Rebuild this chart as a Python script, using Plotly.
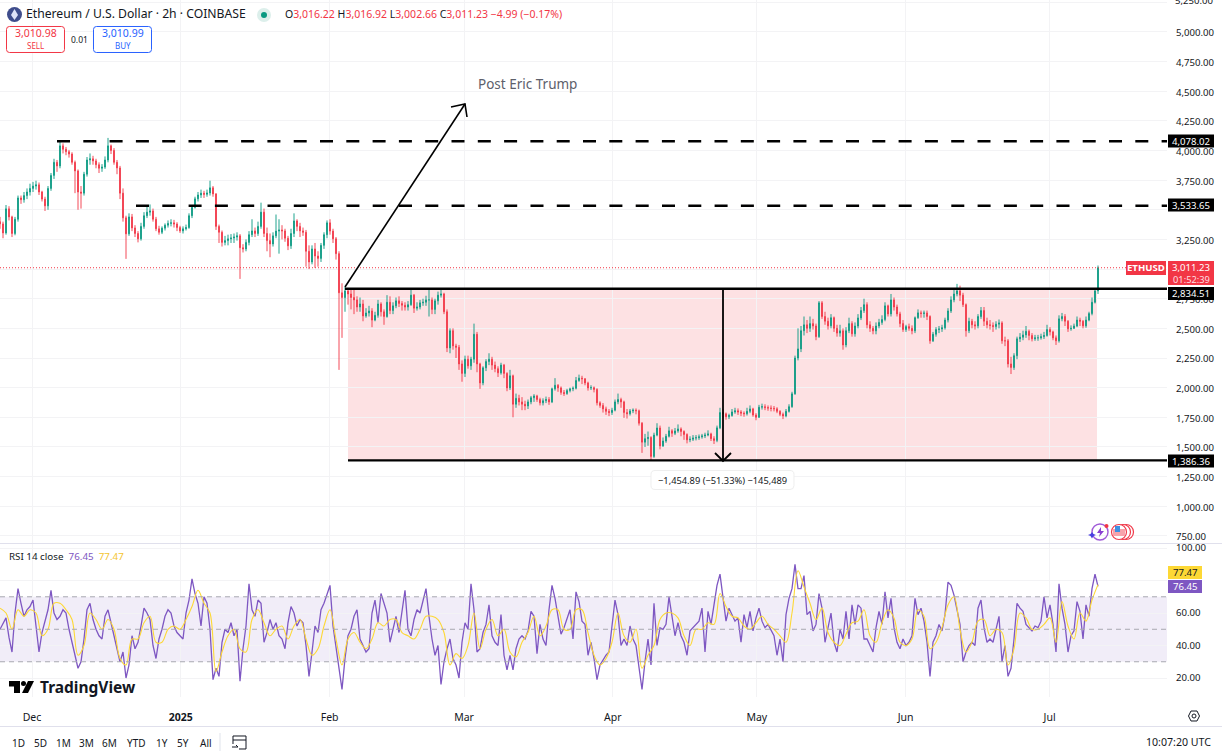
import pandas as pd
import plotly.graph_objects as go
from plotly.subplots import make_subplots

W, H = 1222, 756

close_vals = [
    3381,3305,3508,3440,3300,3420,3600,3585,3620,3650,
    3680,3700,3710,3650,3590,3533,3680,3790,3900,3870,
    4039,4010,3990,3970,3900,3828,3650,3640,3800,3920,
    3930,3912,3880,3850,3860,3920,4039,4000,3900,3853,
    3640,3432,3297,3440,3347,3300,3255,3360,3450,3480,
    3490,3420,3340,3310,3345,3370,3385,3390,3380,3350,
    3322,3340,3350,3450,3520,3592,3625,3640,3630,3642,
    3685,3634,3360,3310,3225,3240,3255,3262,3270,3280,
    3180,3170,3225,3290,3322,3300,3360,3480,3300,3240,
    3212,3280,3320,3330,3322,3260,3196,3300,3406,3360,
    3322,3310,3150,3060,3170,3110,3090,3200,3290,3390,
    3320,3255,3130,2800,2760,2816,2790,2760,2740,2680,
    2706,2605,2630,2647,2570,2610,2706,2640,2600,2720,
    2650,2690,2732,2710,2695,2680,2700,2780,2670,2680,
    2715,2720,2740,2740,2660,2732,2780,2790,2640,2335,
    2480,2352,2340,2200,2120,2240,2184,2240,2450,2200,
    2040,2167,2220,2240,2190,2160,2125,2190,2120,1998,
    2100,1860,1910,1880,1860,1846,1880,1915,1930,1900,
    1872,1890,1900,1880,1990,2020,1998,1960,1950,1975,
    1990,1995,2060,2080,2075,2040,1998,2000,1985,1872,
    1850,1821,1800,1790,1810,1880,1900,1880,1790,1780,
    1804,1810,1805,1700,1540,1570,1580,1420,1600,1660,
    1509,1550,1590,1636,1615,1635,1652,1630,1605,1560,
    1565,1575,1578,1585,1593,1600,1610,1570,1555,1661,
    1790,1779,1755,1765,1795,1805,1795,1785,1780,1800,
    1821,1770,1750,1835,1840,1832,1828,1825,1822,1800,
    1775,1762,1800,1840,1948,2250,2327,2480,2530,2500,
    2540,2520,2430,2715,2600,2560,2521,2590,2500,2460,
    2479,2360,2480,2540,2454,2520,2588,2650,2700,2530,
    2500,2479,2520,2550,2575,2690,2622,2740,2680,2622,
    2540,2490,2515,2500,2479,2590,2631,2625,2630,2600,
    2395,2450,2490,2495,2505,2570,2647,2740,2790,2816,
    2780,2700,2480,2560,2530,2521,2600,2650,2560,2530,
    2525,2515,2535,2546,2395,2395,2200,2170,2270,2412,
    2425,2445,2475,2440,2412,2420,2420,2430,2440,2490,
    2470,2420,2395,2580,2600,2560,2496,2500,2520,2570,
    2560,2521,2570,2625,2720,2816,3011.23,
]
open_vals = [
    3400,3381,3305,3508,3440,3300,3420,3600,3585,3620,
    3650,3680,3700,3710,3650,3590,3533,3680,3790,3900,
    3870,4039,4010,3990,3970,3900,3828,3650,3640,3800,
    3920,3930,3912,3880,3850,3860,3920,4039,4000,3900,
    3853,3640,3432,3297,3440,3347,3300,3255,3360,3450,
    3480,3490,3420,3340,3310,3345,3370,3385,3390,3380,
    3350,3322,3340,3350,3450,3520,3592,3625,3640,3630,
    3642,3685,3634,3360,3310,3225,3240,3255,3262,3270,
    3280,3180,3170,3225,3290,3322,3300,3360,3480,3300,
    3240,3212,3280,3320,3330,3322,3260,3196,3300,3406,
    3360,3322,3310,3150,3060,3170,3110,3090,3200,3290,
    3390,3320,3255,3130,2800,2760,2816,2790,2760,2740,
    2680,2706,2605,2630,2647,2570,2610,2706,2640,2600,
    2720,2650,2690,2732,2710,2695,2680,2700,2780,2670,
    2680,2715,2720,2740,2740,2660,2732,2780,2790,2640,
    2335,2480,2352,2340,2200,2120,2240,2184,2240,2450,
    2200,2040,2167,2220,2240,2190,2160,2125,2190,2120,
    1998,2100,1860,1910,1880,1860,1846,1880,1915,1930,
    1900,1872,1890,1900,1880,1990,2020,1998,1960,1950,
    1975,1990,1995,2060,2080,2075,2040,1998,2000,1985,
    1872,1850,1821,1800,1790,1810,1880,1900,1880,1790,
    1780,1804,1810,1805,1700,1540,1570,1580,1420,1600,
    1660,1509,1550,1590,1636,1615,1635,1652,1630,1605,
    1560,1565,1575,1578,1585,1593,1600,1610,1570,1555,
    1661,1790,1779,1755,1765,1795,1805,1795,1785,1780,
    1800,1821,1770,1750,1835,1840,1832,1828,1825,1822,
    1800,1775,1762,1800,1840,1948,2250,2327,2480,2530,
    2500,2540,2520,2430,2715,2600,2560,2521,2590,2500,
    2460,2479,2360,2480,2540,2454,2520,2588,2650,2700,
    2530,2500,2479,2520,2550,2575,2690,2622,2740,2680,
    2622,2540,2490,2515,2500,2479,2590,2631,2625,2630,
    2600,2395,2450,2490,2495,2505,2570,2647,2740,2790,
    2816,2780,2700,2480,2560,2530,2521,2600,2650,2560,
    2530,2525,2515,2535,2546,2395,2395,2200,2170,2270,
    2412,2425,2445,2475,2440,2412,2420,2420,2430,2440,
    2490,2470,2420,2395,2580,2600,2560,2496,2500,2520,
    2570,2560,2521,2570,2625,2720,2816,
]
high_vals = [
    3440,3400,3540,3530,3450,3440,3620,3620,3650,3680,
    3720,3735,3745,3730,3660,3610,3700,3810,3930,3920,
    4081,4060,4030,4005,3985,3915,3840,3700,3820,3945,
    3975,3955,3930,3900,3885,3950,4106,4050,4020,3920,
    3870,3680,3450,3470,3465,3370,3320,3390,3480,3530,
    3545,3510,3440,3365,3360,3385,3410,3420,3415,3395,
    3365,3360,3375,3470,3540,3610,3650,3670,3660,3670,
    3745,3700,3640,3375,3325,3280,3290,3295,3300,3310,
    3295,3210,3250,3320,3420,3350,3400,3560,3510,3350,
    3300,3310,3460,3420,3370,3340,3280,3340,3470,3420,
    3390,3350,3330,3200,3200,3220,3150,3220,3310,3410,
    3420,3340,3270,3150,2880,2850,2830,2830,2825,2770,
    2760,2740,2670,2690,2670,2640,2740,2720,2660,2780,
    2770,2720,2760,2770,2730,2720,2730,2830,2790,2720,
    2740,2750,2775,2830,2760,2750,2810,2835,2800,2660,
    2500,2500,2370,2360,2230,2270,2270,2260,2540,2470,
    2210,2180,2240,2290,2260,2220,2180,2210,2200,2130,
    2150,2110,1950,1940,1920,1890,1900,1930,1945,1940,
    1915,1910,1925,1920,2000,2080,2030,2010,1980,1990,
    2000,2010,2090,2110,2100,2080,2050,2020,2010,1995,
    1885,1870,1840,1820,1830,1900,1950,1915,1890,1820,
    1820,1825,1825,1815,1710,1610,1630,1590,1620,1700,
    1680,1580,1610,1670,1650,1660,1690,1665,1640,1615,
    1590,1600,1600,1605,1610,1620,1640,1620,1590,1680,
    1830,1820,1790,1780,1820,1830,1825,1810,1800,1830,
    1850,1830,1785,1855,1865,1860,1850,1850,1845,1835,
    1810,1790,1820,1860,1965,2270,2500,2520,2600,2570,
    2600,2580,2540,2730,2730,2640,2590,2620,2600,2530,
    2530,2500,2510,2590,2560,2550,2620,2680,2750,2720,
    2560,2520,2550,2580,2610,2720,2700,2790,2760,2700,
    2640,2570,2530,2540,2525,2600,2660,2650,2650,2650,
    2610,2470,2510,2520,2530,2590,2670,2770,2830,2875,
    2860,2800,2710,2590,2580,2560,2620,2680,2680,2590,
    2570,2550,2560,2575,2560,2430,2410,2260,2290,2430,
    2460,2480,2520,2490,2460,2445,2445,2455,2470,2530,
    2510,2480,2440,2610,2630,2620,2570,2525,2540,2600,
    2590,2570,2600,2640,2760,2840,3030,
]
low_vals = [
    3340,3260,3290,3410,3270,3285,3400,3550,3560,3590,
    3620,3650,3670,3625,3570,3490,3500,3660,3760,3820,
    3850,3975,3960,3940,3880,3640,3500,3510,3620,3780,
    3880,3880,3850,3810,3820,3845,3900,3970,3880,3800,
    3590,3400,3086,3280,3320,3270,3225,3240,3340,3430,
    3450,3400,3320,3290,3295,3325,3350,3360,3350,3320,
    3305,3300,3325,3340,3430,3510,3570,3600,3600,3610,
    3620,3610,3330,3220,3190,3200,3200,3220,3220,3240,
    2917,3140,3150,3200,3270,3270,3280,3340,3270,3150,
    3100,3190,3260,3130,3250,3230,3160,3170,3270,3320,
    3270,3280,3020,3000,3040,3010,3020,3060,3170,3260,
    3290,3220,3080,2150,2420,2640,2700,2660,2620,2640,
    2640,2560,2590,2600,2510,2560,2590,2600,2530,2590,
    2620,2620,2670,2680,2650,2650,2650,2690,2630,2650,
    2660,2690,2690,2600,2620,2620,2700,2760,2620,2300,
    2290,2320,2250,2150,2050,2090,2160,2150,2210,2130,
    1990,2020,2140,2190,2150,2130,2090,2110,2080,1970,
    1980,1750,1830,1850,1810,1810,1820,1860,1880,1880,
    1850,1850,1870,1855,1870,1975,1965,1940,1930,1940,
    1960,1970,1985,2050,2030,2020,1975,1980,1960,1850,
    1830,1790,1770,1760,1770,1800,1860,1830,1745,1740,
    1765,1785,1775,1680,1450,1500,1510,1391,1408,1590,
    1480,1500,1535,1580,1585,1600,1620,1590,1560,1530,
    1540,1550,1555,1560,1570,1575,1590,1550,1525,1540,
    1650,1750,1730,1735,1755,1780,1770,1760,1755,1765,
    1785,1755,1725,1745,1815,1810,1805,1800,1800,1785,
    1760,1735,1750,1790,1830,1940,2230,2300,2440,2460,
    2470,2490,2400,2420,2580,2530,2490,2500,2470,2430,
    2430,2320,2340,2460,2430,2430,2500,2570,2630,2500,
    2470,2450,2450,2500,2530,2560,2600,2600,2650,2600,
    2510,2470,2470,2480,2450,2460,2580,2590,2590,2570,
    2370,2385,2430,2460,2470,2490,2550,2630,2720,2770,
    2730,2680,2430,2460,2500,2490,2500,2580,2520,2500,
    2490,2470,2490,2500,2370,2350,2170,2115,2150,2240,
    2385,2400,2420,2400,2390,2395,2395,2405,2410,2430,
    2440,2400,2360,2380,2560,2520,2470,2480,2495,2510,
    2520,2500,2505,2560,2610,2710,2790,
]
rsi_vals = [
    50,54,57,45,36,60,75,66,58,62,
    64,68,52,36,48,55,62,74,60,56,
    58,62,60,50,42,33,26,30,44,62,
    66,56,50,46,44,58,62,54,46,36,
    30,36,20,28,46,38,42,52,63,60,
    56,40,32,44,50,58,62,60,52,48,
    46,44,60,68,81,72,66,52,70,66,
    50,19,26,21,42,50,48,54,46,50,
    18,38,52,78,62,58,68,66,42,48,
    56,50,54,46,44,38,54,64,60,52,
    56,54,40,21,36,52,48,62,66,72,
    77,52,40,28,13,32,46,50,58,62,
    44,40,36,38,60,68,54,72,66,60,
    42,50,58,48,62,74,50,46,56,62,
    60,68,75,58,44,34,40,16,30,38,
    44,32,28,20,42,54,50,78,62,36,
    38,48,53,65,46,42,40,59,34,25,
    34,25,38,44,46,44,49,61,58,35,
    53,44,40,62,77,69,57,47,51,56,
    62,44,73,67,55,53,34,42,32,19,
    28,31,34,36,51,68,59,40,44,40,
    52,44,40,26,13,30,44,28,66,40,
    51,50,53,70,59,46,54,46,42,34,
    49,51,53,55,63,36,61,53,65,77,
    84,71,55,63,59,55,57,42,59,51,
    61,49,57,63,55,51,53,49,46,34,
    44,30,59,69,75,90,75,75,83,59,
    61,49,53,72,63,42,52,60,42,36,
    50,44,61,44,65,53,65,63,44,44,
    40,36,51,61,53,73,57,69,51,42,
    38,44,40,42,46,69,59,63,55,42,
    21,42,46,53,49,59,79,77,71,63,
    53,30,36,40,42,40,63,68,51,42,
    44,42,51,58,30,40,21,26,44,66,
    63,61,53,51,49,52,51,55,70,57,
    65,53,36,78,63,53,36,46,49,67,
    61,44,65,58,75,84,76.45,
]
rsi_ma_vals = [
    63,60,50,62,58,62,60,46,50,66,
    66,62,56,34,40,60,56,50,56,50,
    32,28,44,44,54,58,42,42,50,52,
    50,56,64,74,66,60,24,36,46,50,
    38,36,56,62,54,46,50,52,44,52,
    56,44,34,38,52,62,44,28,44,48,
    42,38,44,54,52,56,56,48,46,44,
    50,58,58,56,48,28,35,32,40,60,
    38,50,56,46,
    50,36,33,42,48,58,46,52,62,62,
    50,50,62,62,48,34,28,32,42,60,
    46,42,50,26,34,40,56,60,60,57,
    46,40,50,50,54,53,72,64,58,57,
    52,50,54,58,53,50,46,42,60,
    86,76,66,56,63,48,42,40,47,54,
    55,62,46,42,54,62,57,42,40,44,
    62,58,38,42,51,65,70,50,36,42,
    55,56,46,50,48,28,38,60,57,50,
    50,53,57,42,67,52,44,60,55,68,
    77.47,
]

# drawn levels: price, start of the line
level_prices = [4078.02, 3533.65, 2834.51, 1386.36]
level_starts = ["2024-12-06 05:00", "2024-12-22 16:00", "2025-02-04 05:00", "2025-02-04 20:00"]
last_price = 3011.23
month_ticks = ["2024-12-01", "2025-01-01", "2025-02-01", "2025-03-01",
               "2025-04-01", "2025-05-01", "2025-06-01", "2025-07-01"]
month_labels = ["Dec", "<b>2025</b>", "Feb", "Mar", "Apr", "May", "Jun", "Jul"]
price_ticks = [750, 1000, 1250, 1500, 1750, 2000, 2250, 2500, 2750, 3000, 3250,
               3500, 3750, 4000, 4250, 4500, 4750, 5000, 5250]
# 3,000 and 3,500 sit fully behind the price tags, 5,250 is cut by the top edge
price_labels = ["750.00", "1,000.00", "1,250.00", "1,500.00", "1,750.00", "2,000.00", "2,250.00",
                "2,500.00", "2,750.00", "", "3,250.00", "", "3,750.00", "4,000.00", "4,250.00",
                "4,500.00", "4,750.00", "5,000.00", ""]
rsi_ticks = [20, 40, 60, 80, 100]
rsi_labels = ["20.00", "40.00", "60.00", "", "100.00"]
range_buttons = ["1D", "5D", "1M", "3M", "6M", "YTD", "1Y", "5Y", "All"]
button_xs = [18, 40, 63, 86, 109, 136, 162, 183, 206]

FONT = "Noto Sans"
UP, DOWN = "#089981", "#F23645"
PURPLE, YELLOW = "#7E57C2", "#FDD835"
INK = "#131722"
SCALE_SIZE = 9.6

times = pd.date_range("2024-11-24 08:00", periods=len(close_vals), freq="15h")
ma_times = pd.date_range("2024-11-24 08:00", periods=len(rsi_ma_vals), freq="30h")
x_end = "2025-07-25 11:00"
box_end = "2025-07-10 21:00"
drop_x = "2025-04-23 23:00"


def fx(x):
    return x / W


def fy(y):
    return 1 - y / H


def path(points, close=False):
    s = "M" + " L".join(f"{fx(x):.5f},{fy(y):.5f}" for x, y in points)
    return s + (" Z" if close else "")


def rrect(x0, y0, x1, y1, r=3):
    c = lambda x, y: f"{fx(x):.5f},{fy(y):.5f}"
    return (f"M{c(x0 + r, y0)} L{c(x1 - r, y0)} Q{c(x1, y0)} {c(x1, y0 + r)} "
            f"L{c(x1, y1 - r)} Q{c(x1, y1)} {c(x1 - r, y1)} L{c(x0 + r, y1)} "
            f"Q{c(x0, y1)} {c(x0, y1 - r)} L{c(x0, y0 + r)} Q{c(x0, y0)} {c(x0 + r, y0)} Z")


fig = make_subplots(rows=2, cols=1, shared_xaxes=True, vertical_spacing=0)

fig.add_trace(go.Candlestick(x=times, open=open_vals, high=high_vals, low=low_vals, close=close_vals,
                             increasing=dict(line=dict(color=UP, width=0.9), fillcolor=UP),
                             decreasing=dict(line=dict(color=DOWN, width=0.9), fillcolor=DOWN),
                             whiskerwidth=0, hoverinfo="skip", showlegend=False), row=1, col=1)
fig.add_trace(go.Scatter(x=times, y=rsi_vals, mode="lines", line=dict(color=PURPLE, width=1.3),
                         hoverinfo="skip", showlegend=False), row=2, col=1)
fig.add_trace(go.Scatter(x=ma_times, y=rsi_ma_vals, mode="lines",
                         line=dict(color=YELLOW, width=1.1, shape="spline"),
                         hoverinfo="skip", showlegend=False), row=2, col=1)

shapes = []
# shaded drop box and RSI band sit under the candles
shapes.append(dict(type="rect", xref="x", yref="y", x0=level_starts[3], x1=box_end,
                   y0=level_prices[3], y1=level_prices[2], layer="below",
                   fillcolor="rgba(242,54,69,0.15)", line_width=0))
shapes.append(dict(type="rect", xref="x", yref="y2", x0=times[0], x1=x_end, y0=30, y1=70,
                   layer="below", fillcolor="rgba(126,87,194,0.11)", line_width=0))
for v in [30, 50, 70]:
    shapes.append(dict(type="line", xref="x", yref="y2", x0=times[0], x1=x_end, y0=v, y1=v,
                       line=dict(color="#a8a8b0", width=1, dash="5px,4px")))
shapes.append(dict(type="line", xref="x", yref="y", x0=times[0], x1=x_end, y0=last_price, y1=last_price,
                   line=dict(color=DOWN, width=1, dash="1px,2px")))
for p, s, dash in zip(level_prices, level_starts, ["13px,13.3px", "13px,13.3px", None, None]):
    shapes.append(dict(type="line", xref="x", yref="y", x0=s, x1=x_end, y0=p, y1=p,
                       line=dict(color="black", width=2.4, dash=dash or "solid")))
shapes.append(dict(type="line", xref="x", yref="y", x0=drop_x, x1=drop_x,
                   y0=level_prices[2], y1=level_prices[3], line=dict(color="black", width=1.8)))

black = dict(color="black", width=1.6)
shapes.append(dict(type="path", xref="paper", yref="paper", path=path([(345, 287), (465, 104)]), line=black))
shapes.append(dict(type="path", xref="paper", yref="paper", path=path([(451, 107), (465, 104), (467, 117)]), line=black))
shapes.append(dict(type="path", xref="paper", yref="paper", path=path([(715, 453), (723, 461), (731, 453)]), line=dict(color="black", width=1.8)))

# pane and toolbar separators
for y0, x1 in [(543.5, W), (726.5, W)]:
    shapes.append(dict(type="line", xref="paper", yref="paper", x0=0, x1=fx(x1), y0=fy(y0), y1=fy(y0),
                       line=dict(color="#e0e0ec", width=1)))
shapes.append(dict(type="line", xref="paper", yref="paper", x0=fx(220), x1=fx(220), y0=fy(733), y1=fy(751),
                   line=dict(color="#e0e3eb", width=1)))

annotations = []


def label(x, y, text, size=10.5, color=INK, anchor="left"):
    annotations.append(dict(xref="paper", yref="paper", x=fx(x), y=fy(y), text=text, showarrow=False,
                            xanchor=anchor, yanchor="middle", align=anchor, borderpad=0,
                            font=dict(family=FONT, size=size, color=color)))


def tag(x0, y0, x1, y1, fill, text, color="white"):
    shapes.append(dict(type="rect", xref="paper", yref="paper", x0=fx(x0), x1=fx(x1), y0=fy(y0), y1=fy(y1),
                       fillcolor=fill, line_width=0))
    if text:
        label((x0 + x1) / 2, (y0 + y1) / 2, text, size=SCALE_SIZE, color=color, anchor="center")


# right scale tags
label(1174, 1, "5,250.00", size=SCALE_SIZE)
for p, y in zip(level_prices, [141, 205, 293.5, 461]):
    tag(1168, y - 6.5, 1214, y + 6.5, "#000000", f"{p:,.2f}")
tag(1168, 261, 1214, 285, DOWN, "")
label(1191, 267, "3,011.23", size=SCALE_SIZE, color="white", anchor="center")
label(1191, 279, "01:52:39", size=9.3, color="#ffdfe2", anchor="center")
tag(1126, 261, 1166, 275, DOWN, "<b>ETHUSD</b>")
tag(1168, 566, 1202, 579, YELLOW, "77.47", color=INK)
tag(1168, 580, 1202, 593, PURPLE, "76.45")

# header
shapes.append(dict(type="circle", xref="paper", yref="paper", x0=fx(7), x1=fx(22), y0=fy(7), y1=fy(22),
                   fillcolor="#3f4d8c", line_width=0))
shapes.append(dict(type="path", xref="paper", yref="paper", fillcolor="#dfe3f7", line_width=0,
                   path=path([(14.5, 9), (18, 15), (14.5, 20), (11, 15)], close=True)))
label(25, 14, "Ethereum / U.S. Dollar · 2h · COINBASE", size=12.2)
shapes.append(dict(type="circle", xref="paper", yref="paper", x0=fx(257), x1=fx(271), y0=fy(8), y1=fy(22),
                   fillcolor="#dcefeb", line_width=0))
shapes.append(dict(type="circle", xref="paper", yref="paper", x0=fx(261), x1=fx(267), y0=fy(12), y1=fy(18),
                   fillcolor=UP, line_width=0))
red = DOWN
label(284, 14, f"O<span style='color:{red}'>3,016.22</span> H<span style='color:{red}'>3,016.92</span> "
               f"L<span style='color:{red}'>3,002.66</span> C<span style='color:{red}'>3,011.23 −4.99 (−0.17%)</span>",
      size=10.5)
shapes.append(dict(type="path", xref="paper", yref="paper", path=rrect(6.5, 26.5, 64.5, 52.5),
                   fillcolor="white", line=dict(color=DOWN, width=1)))
shapes.append(dict(type="path", xref="paper", yref="paper", path=rrect(93.5, 26.5, 151.5, 52.5),
                   fillcolor="white", line=dict(color="#2962FF", width=1)))
label(35.5, 33, "3,010.98", size=10.5, color=DOWN, anchor="center")
label(35.5, 45, "SELL", size=8, color=DOWN, anchor="center")
label(122.5, 33, "3,010.99", size=10.5, color="#2962FF", anchor="center")
label(122.5, 45, "BUY", size=8, color="#2962FF", anchor="center")
label(79, 39, "0.01", size=8.5, anchor="center")

# drawing labels
label(477, 83.5, "Post Eric Trump", size=13.5, color="#5d606b")
shapes.append(dict(type="path", xref="paper", yref="paper", path=rrect(651, 470.5, 794, 489.5, r=4),
                   fillcolor="white", line=dict(color="#eeeeee", width=1)))
label(722.5, 480, "−1,454.89 (−51.33%) −145,489", size=9.3, anchor="center")

# RSI legend
label(8, 556, f"RSI 14 close  <span style='color:{PURPLE}'>76.45</span>  <span style='color:#f4c430'>77.47</span>", size=9.8)

# TradingView mark
shapes.append(dict(type="path", xref="paper", yref="paper", fillcolor="black", line_width=0,
                   path=path([(9, 681), (20, 681), (20, 693), (14, 693), (14, 686.5), (9, 686.5)], close=True)))
shapes.append(dict(type="circle", xref="paper", yref="paper", x0=fx(21), x1=fx(26), y0=fy(681), y1=fy(686),
                   fillcolor="black", line_width=0))
shapes.append(dict(type="path", xref="paper", yref="paper", fillcolor="black", line_width=0,
                   path=path([(28, 681), (34, 681), (28, 693), (22, 693)], close=True)))
label(39, 687, "<b>TradingView</b>", size=15.5, color="#131722")

# bottom toolbar
for name, bx in zip(range_buttons, button_xs):
    label(bx, 743, name, size=10, anchor="center")
label(1212, 742, "10:07:20 UTC", size=10.6, anchor="right")
shapes.append(dict(type="path", xref="paper", yref="paper", line=dict(color="#131722", width=1),
                   path=path([(233, 744), (233, 736), (246, 736), (246, 749), (239, 749)])))
shapes.append(dict(type="path", xref="paper", yref="paper", line=dict(color="#131722", width=1),
                   path=path([(233, 740), (246, 740)])))
shapes.append(dict(type="path", xref="paper", yref="paper", line=dict(color="#131722", width=1),
                   path=path([(232, 747), (238, 747), (236, 745)])))

# scale settings gear
shapes.append(dict(type="path", xref="paper", yref="paper", line=dict(color="#131722", width=1),
                   path=path([(1188.5, 716), (1191, 711), (1197, 711), (1199.5, 716), (1197, 721), (1191, 721)], close=True)))
shapes.append(dict(type="circle", xref="paper", yref="paper", x0=fx(1192), x1=fx(1196), y0=fy(714), y1=fy(718),
                   line=dict(color="#131722", width=1)))

# promo badges above the RSI pane
shapes.append(dict(type="circle", xref="paper", yref="paper", x0=fx(1092), x1=fx(1108), y0=fy(524), y1=fy(540),
                   line=dict(color="#a05ad8", width=1.4)))
shapes.append(dict(type="path", xref="paper", yref="paper", fillcolor="#8a3fd1", line_width=0,
                   path=path([(1101, 527), (1097, 533), (1100, 533), (1099, 537), (1104, 531), (1101, 531)], close=True)))
shapes.append(dict(type="circle", xref="paper", yref="paper", x0=fx(1104.5), x1=fx(1108.5), y0=fy(524), y1=fy(528),
                   fillcolor="#f23645", line_width=0))
shapes.append(dict(type="path", xref="paper", yref="paper", fillcolor="#4a3fe0", line_width=0,
                   path=path([(1092, 532), (1093.5, 534), (1096, 535), (1093.5, 536), (1092, 538.5), (1090.5, 536), (1088, 535), (1090.5, 534)], close=True)))
for cx in [1126, 1123, 1119]:
    shapes.append(dict(type="circle", xref="paper", yref="paper", x0=fx(cx - 7.5), x1=fx(cx + 7.5), y0=fy(524.5), y1=fy(539.5),
                       fillcolor="white", line=dict(color="#f0394a", width=1.2)))
shapes.append(dict(type="rect", xref="paper", yref="paper", x0=fx(1113), x1=fx(1125), y0=fy(529), y1=fy(536),
                   fillcolor="#f7a3ab", line_width=0))
shapes.append(dict(type="rect", xref="paper", yref="paper", x0=fx(1115), x1=fx(1120), y0=fy(526), y1=fy(532),
                   fillcolor="#3f8fe0", line_width=0))

fig.update_layout(width=W, height=H, margin=dict(l=0, r=0, t=0, b=0, autoexpand=False), autosize=False,
                  paper_bgcolor="white", plot_bgcolor="white", showlegend=False, boxgap=0.6,
                  font=dict(family=FONT, size=10.5, color=INK),
                  shapes=shapes, annotations=annotations, hovermode=False,
                  xaxis=dict(domain=[0, 1167 / W], range=[times[0], x_end], rangeslider=dict(visible=False),
                             tickvals=month_ticks, ticktext=month_labels, showgrid=True, gridcolor="#f3f3f5",
                             zeroline=False, showline=False, ticks="", automargin=False),
                  xaxis2=dict(domain=[0, 1167 / W], range=[times[0], x_end], matches="x",
                              tickvals=month_ticks, ticktext=month_labels, showgrid=True, gridcolor="#f3f3f5",
                              zeroline=False, showline=False, ticks="outside", ticklen=10, tickcolor="rgba(0,0,0,0)",
                              tickfont=dict(size=10.5, family=FONT, color=INK), automargin=False),
                  yaxis=dict(domain=[1 - 543 / H, 1], range=[690, 5269], side="right", tickvals=price_ticks,
                             ticktext=price_labels, gridcolor="#f3f3f5", zeroline=False, showline=False,
                             ticks="outside", ticklen=6, tickcolor="rgba(0,0,0,0)", ticklabelshift=1,
                             tickfont=dict(size=SCALE_SIZE, family=FONT), automargin=False),
                  yaxis2=dict(domain=[1 - 697 / H, 1 - 544 / H], range=[8.3, 102.5], side="right", tickvals=rsi_ticks,
                              ticktext=rsi_labels, gridcolor="#f3f3f5", zeroline=False, showline=False,
                              ticks="outside", ticklen=6, tickcolor="rgba(0,0,0,0)",
                              tickfont=dict(size=SCALE_SIZE, family=FONT), automargin=False))

fig.write_html("out.html", config={"displayModeBar": False},
               post_script="document.body.style.margin='0';document.documentElement.style.overflow='hidden';")
